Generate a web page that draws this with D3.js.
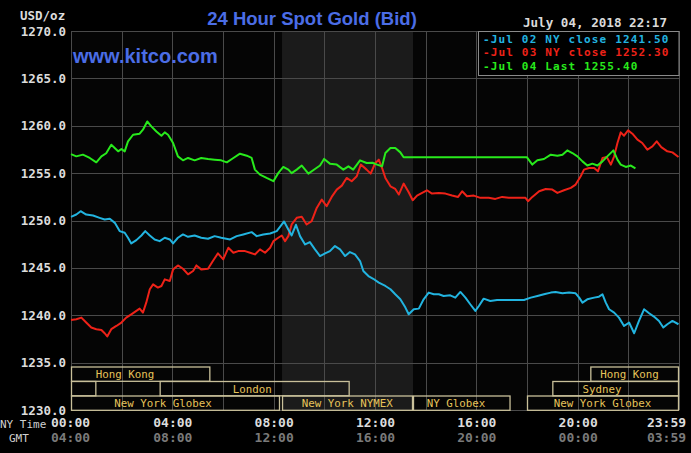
<!DOCTYPE html>
<html><head><meta charset="utf-8">
<script src="https://cdn.jsdelivr.net/npm/d3@7"></script>
<style>html,body{margin:0;padding:0;background:#000;overflow:hidden}</style>
</head><body><svg id="c" width="691" height="453"></svg>
<script>
// ---- data ----
const yTicks = [1230,1235,1240,1245,1250,1255,1260,1265,1270];
const xTicks = [0,4,8,12,16,20,23.983];
const nyLabels = ["00:00","04:00","08:00","12:00","16:00","20:00","23:59"];
const gmtLabels = ["04:00","08:00","12:00","16:00","20:00","00:00","03:59"];
const gridHours = [0,2,4,6,8,10,12,14,16,18,20,22,24];
const pitHours = [8.33, 13.5];

const legendLabels = ["-Jul 02 NY close 1241.50","-Jul 03 NY close 1252.30","-Jul 04 Last 1255.40"];

const jul02 = [[0,1250.39],[0.21,1250.63],[0.38,1250.98],[0.6,1250.63],[0.87,1250.53],[1.13,1250.28],[1.33,1250.1],[1.53,1250.18],[1.73,1249.75],[1.92,1248.88],[2.12,1248.7],[2.25,1248.18],[2.38,1247.58],[2.58,1247.93],[2.78,1248.42],[2.93,1248.88],[3.11,1248.42],[3.3,1248.0],[3.5,1247.82],[3.7,1248.18],[3.9,1248.0],[4.03,1247.58],[4.22,1248.18],[4.42,1248.53],[4.62,1248.28],[4.88,1248.42],[5.14,1248.18],[5.41,1248.07],[5.67,1248.35],[5.93,1248.18],[6.28,1248.0],[6.54,1248.35],[6.8,1248.53],[7.13,1248.77],[7.33,1248.35],[7.59,1248.53],[7.86,1248.63],[8.12,1248.88],[8.25,1249.33],[8.41,1249.9],[8.58,1249.05],[8.71,1248.42],[8.88,1249.55],[9.04,1248.35],[9.24,1247.47],[9.43,1247.72],[9.63,1246.95],[9.83,1246.25],[10.03,1246.53],[10.22,1246.77],[10.42,1247.3],[10.62,1246.95],[10.82,1246.25],[11.01,1246.67],[11.21,1246.42],[11.41,1245.72],[11.54,1244.67],[11.74,1244.14],[11.93,1243.85],[12.15,1243.44],[12.41,1243.09],[12.61,1242.74],[12.8,1242.21],[13.0,1241.68],[13.2,1240.81],[13.33,1240.1],[13.53,1240.63],[13.73,1240.7],[13.92,1241.68],[14.12,1242.39],[14.32,1242.21],[14.52,1242.21],[14.71,1242.03],[14.97,1242.1],[15.17,1241.86],[15.37,1242.46],[15.57,1241.86],[15.76,1241.16],[15.96,1240.46],[16.1,1240.98],[16.29,1241.75],[16.55,1241.5],[16.82,1241.61],[17.5,1241.61],[17.88,1241.61],[18.15,1241.86],[18.41,1242.03],[18.67,1242.21],[18.94,1242.39],[19.13,1242.46],[19.4,1242.32],[19.66,1242.39],[19.92,1242.32],[20.06,1241.86],[20.19,1241.33],[20.38,1241.68],[20.65,1241.86],[20.84,1241.96],[20.98,1242.21],[21.11,1241.33],[21.24,1240.63],[21.44,1240.28],[21.63,1239.75],[21.83,1238.87],[22.03,1239.23],[22.23,1238.1],[22.42,1239.4],[22.62,1240.63],[22.82,1240.21],[23.01,1239.86],[23.21,1239.4],[23.38,1238.7],[23.54,1239.05],[23.74,1239.4],[23.98,1239.05]];

const jul03 = [[0,1239.51],[0.21,1239.58],[0.41,1239.75],[0.6,1239.23],[0.8,1238.7],[1.0,1238.53],[1.2,1238.45],[1.33,1238.1],[1.43,1237.76],[1.59,1238.53],[1.79,1238.87],[1.99,1239.23],[2.18,1239.75],[2.38,1240.1],[2.58,1240.46],[2.71,1240.7],[2.84,1240.28],[2.97,1241.33],[3.11,1242.74],[3.24,1243.26],[3.43,1242.92],[3.57,1243.09],[3.7,1243.79],[3.9,1243.61],[4.03,1244.84],[4.22,1245.26],[4.42,1244.91],[4.62,1244.32],[4.82,1244.67],[4.95,1245.26],[5.14,1244.84],[5.41,1244.91],[5.6,1245.72],[5.8,1246.53],[6.01,1245.9],[6.21,1247.12],[6.41,1246.6],[6.6,1246.77],[6.87,1246.77],[7.07,1246.6],[7.26,1246.42],[7.46,1246.95],[7.66,1246.6],[7.86,1247.12],[7.99,1247.82],[8.18,1248.18],[8.32,1248.42],[8.45,1247.82],[8.58,1248.35],[8.71,1249.58],[8.91,1250.28],[9.11,1250.39],[9.3,1249.58],[9.5,1249.93],[9.7,1251.33],[9.9,1252.21],[10.09,1251.5],[10.29,1252.49],[10.49,1253.26],[10.69,1253.68],[10.88,1254.49],[11.08,1254.14],[11.28,1254.67],[11.44,1255.9],[11.67,1255.37],[11.83,1254.95],[12.01,1256.07],[12.15,1256.42],[12.28,1255.54],[12.41,1254.49],[12.61,1253.61],[12.8,1253.33],[12.94,1252.74],[13.13,1253.9],[13.33,1252.98],[13.49,1252.14],[13.66,1252.63],[13.86,1252.91],[14.05,1253.19],[14.25,1252.84],[14.52,1252.91],[14.78,1252.84],[15.04,1252.63],[15.28,1252.49],[15.44,1253.09],[15.63,1252.56],[15.9,1252.63],[16.16,1252.39],[16.49,1252.39],[16.75,1252.28],[17.02,1252.49],[17.28,1252.39],[17.67,1252.39],[17.94,1252.39],[18.04,1252.03],[18.21,1252.49],[18.48,1253.09],[18.74,1253.33],[19.0,1253.26],[19.2,1252.91],[19.46,1253.19],[19.73,1253.44],[19.92,1253.79],[20.12,1254.67],[20.25,1255.37],[20.45,1255.54],[20.65,1255.54],[20.8,1255.19],[20.98,1256.6],[21.15,1256.7],[21.31,1255.9],[21.44,1256.77],[21.57,1258.18],[21.7,1259.3],[21.83,1258.95],[21.99,1259.51],[22.16,1259.16],[22.36,1258.53],[22.55,1258.18],[22.75,1257.47],[22.95,1257.82],[23.12,1258.35],[23.3,1257.75],[23.54,1257.3],[23.74,1257.19],[23.98,1256.7]];

const jul04 = [[0,1257.0],[0.21,1256.77],[0.47,1256.95],[0.74,1256.6],[1.0,1256.14],[1.2,1256.77],[1.39,1257.1],[1.59,1258.0],[1.86,1257.3],[1.99,1257.55],[2.12,1257.3],[2.25,1258.35],[2.45,1259.05],[2.71,1259.16],[2.84,1259.58],[3.01,1260.45],[3.17,1259.93],[3.37,1259.4],[3.57,1258.95],[3.7,1259.3],[3.83,1259.05],[4.03,1258.18],[4.22,1256.77],[4.42,1256.35],[4.62,1256.6],[4.88,1256.35],[5.14,1256.6],[5.41,1256.5],[5.67,1256.42],[5.93,1256.35],[6.15,1256.14],[6.41,1256.6],[6.67,1257.05],[6.94,1256.84],[7.13,1256.6],[7.26,1255.37],[7.46,1254.84],[7.72,1254.49],[7.99,1254.15],[8.18,1255.0],[8.38,1255.65],[8.58,1255.37],[8.71,1255.0],[8.91,1255.37],[9.11,1255.8],[9.37,1254.95],[9.63,1255.44],[9.83,1255.8],[9.99,1256.5],[10.22,1256.0],[10.49,1255.9],[10.75,1255.37],[10.95,1255.72],[11.14,1255.37],[11.41,1256.35],[11.67,1256.07],[11.9,1256.1],[12.08,1255.9],[12.28,1255.72],[12.41,1257.12],[12.61,1257.65],[12.8,1257.65],[13.0,1257.19],[13.13,1256.67],[18.0,1256.67],[18.21,1255.9],[18.41,1256.35],[18.67,1256.49],[18.94,1256.95],[19.2,1256.84],[19.4,1256.95],[19.59,1257.4],[19.79,1257.12],[19.99,1256.77],[20.19,1256.24],[20.38,1255.8],[20.58,1256.0],[20.78,1255.8],[20.98,1256.24],[21.17,1256.77],[21.41,1257.4],[21.57,1256.42],[21.7,1255.9],[21.9,1255.65],[22.1,1255.8],[22.28,1255.5]];

// trading sessions
const sessionStart = [0, 20.5, 0, 3.5, 19.0, 0, 8.33, 13.5, 18.0];
const sessionEnd   = [5.5, 24, 1.0, 11.0, 24, 8.25, 13.5, 17.35, 24];
const sessionRow   = [0, 0, 1, 1, 1, 2, 2, 2, 2];
const sessionName  = ["Hong Kong","Hong Kong","","London","Sydney","New York Globex","New York NYMEX","NY Globex","New York Globex"];
const sessionLabelAt = [2.13, 22.05, 0.5, 7.15, 20.96, 3.63, 10.9, 15.2, 20.98];

// ---- drawing ----
const svg = d3.select("#c");
const W = 691, H = 453;
const L = 71, R = 679, T = 31, B = 410;
const x = d3.scaleLinear().domain([0,24]).range([L,R]);
const y = d3.scaleLinear().domain([1230,1270]).range([B,T]);
const mono = "'DejaVu Sans Mono','Liberation Mono',monospace";
const sans = "'Liberation Sans',Arial,sans-serif";

svg.append("rect").attr("width",W).attr("height",H).attr("fill","#000");
svg.append("rect").attr("x",L).attr("y",T).attr("width",R-L).attr("height",B-T).attr("fill","#050505");
svg.append("rect").attr("x",x(pitHours[0])).attr("y",T).attr("width",x(pitHours[1])-x(pitHours[0])).attr("height",B-T).attr("fill","#1b1b1b");

const crisp = v => Math.round(v)+0.5;
const grid = svg.append("g").attr("stroke","#4a4a4a").attr("stroke-width",1);
grid.selectAll("line.h").data(yTicks).join("line")
  .attr("x1",L).attr("x2",R).attr("y1",d=>crisp(y(d))).attr("y2",d=>crisp(y(d)));
grid.selectAll("line.v").data(gridHours).join("line")
  .attr("y1",T).attr("y2",B).attr("x1",d=>crisp(x(d))).attr("x2",d=>crisp(x(d)));

// sessions
const rowTop = [367, 381.5, 396];
const rowH = 14.3;
const sess = svg.append("g");
sessionStart.forEach((s,i)=>{
  const r = sessionRow[i];
  sess.append("rect").attr("x",x(s)+0.5).attr("y",rowTop[r]).attr("width",x(sessionEnd[i])-x(s)-1).attr("height",rowH)
    .attr("fill","none").attr("stroke","#c9c09a").attr("stroke-width",1.3);
  if (sessionName[i]) sess.append("text").attr("x",x(sessionLabelAt[i])).attr("y",rowTop[r]+11)
    .attr("text-anchor","middle").attr("font-family",mono).attr("font-size","10.8px")
    .attr("fill","#e6c35a").text(sessionName[i]);
});

// lines
const line = d3.line().x(d=>x(d[0])).y(d=>y(d[1]));
const series = [[jul03,"#ee2218"],[jul02,"#22b4e0"],[jul04,"#28ea1c"]];
series.forEach(([d,c])=>{
  svg.append("path").datum(d).attr("d",line).attr("fill","none").attr("stroke",c)
    .attr("stroke-width",2).attr("stroke-linejoin","round");
});

// y axis
const ya = svg.append("g").attr("transform",`translate(${L-5},0)`)
  .call(d3.axisLeft(y).tickValues(yTicks).tickFormat(d3.format(".1f")).tickSize(0).tickPadding(0));
ya.select(".domain").remove();
ya.selectAll("text").attr("fill","#dcdcdc").attr("font-family",mono).attr("font-size","12.5px").attr("font-weight","bold");

svg.append("text").attr("x",20).attr("y",20).attr("font-family",mono).attr("font-size","12.5px")
  .attr("font-weight","bold").attr("fill","#dcdcdc").text("USD/oz");

// x axis (NY time)
const xa = svg.append("g").attr("transform",`translate(0,${B+8})`)
  .call(d3.axisBottom(x).tickValues(xTicks).tickFormat((d,i)=>nyLabels[i]).tickSize(0).tickPadding(0));
xa.select(".domain").remove();
xa.selectAll("text").attr("fill","#dcdcdc").attr("font-family",mono).attr("font-size","13px").attr("font-weight","bold");
const xg = svg.append("g").attr("transform",`translate(0,${B+23})`)
  .call(d3.axisBottom(x).tickValues(xTicks).tickFormat((d,i)=>gmtLabels[i]).tickSize(0).tickPadding(0));
xg.select(".domain").remove();
xg.selectAll("text").attr("fill","#7a7a7a").attr("font-family",mono).attr("font-size","13px").attr("font-weight","bold");
[xa,xg].forEach(g=>{
  const ticks = g.selectAll(".tick text").nodes();
  d3.select(ticks[ticks.length-1]).attr("text-anchor","end").attr("x",7);
  d3.select(ticks[0]).attr("x",-1);
});

svg.append("text").attr("x",0).attr("y",428).attr("font-family",mono).attr("font-size","11px").attr("fill","#cfcfcf").text("NY Time");
svg.append("text").attr("x",9).attr("y",442).attr("font-family",mono).attr("font-size","11px").attr("fill","#cfcfcf").text("GMT");

// title & site
svg.append("text").attr("x",312).attr("y",25).attr("text-anchor","middle").attr("font-family",sans)
  .attr("font-size","18.5px").attr("font-weight","bold").attr("fill","#4b6de6").text("24 Hour Spot Gold (Bid)");
svg.append("text").attr("x",73).attr("y",63).attr("font-family",sans)
  .attr("font-size","20px").attr("font-weight","bold").attr("fill","#4b6de6").text("www.kitco.com");

// date
svg.append("text").attr("x",667).attr("y",27).attr("text-anchor","end").attr("font-family",mono)
  .attr("font-size","12.6px").attr("font-weight","bold").attr("fill","#dadada").text("July 04, 2018 22:17");

// legend
svg.append("rect").attr("x",478.5).attr("y",T+0.5).attr("width",R-478.5).attr("height",44)
  .attr("fill","#000").attr("stroke","#8a8a8a").attr("stroke-width",1);
const legColors = ["#22b4e0","#ee2218","#28ea1c"];
legendLabels.forEach((t,i)=>{
  svg.append("text").attr("x",483).attr("y",43+i*13.3).attr("font-family",mono).attr("font-size","11px")
    .attr("letter-spacing","1.15px").attr("font-weight","bold").attr("fill",legColors[i]).text(t);
});
</script></body></html>
